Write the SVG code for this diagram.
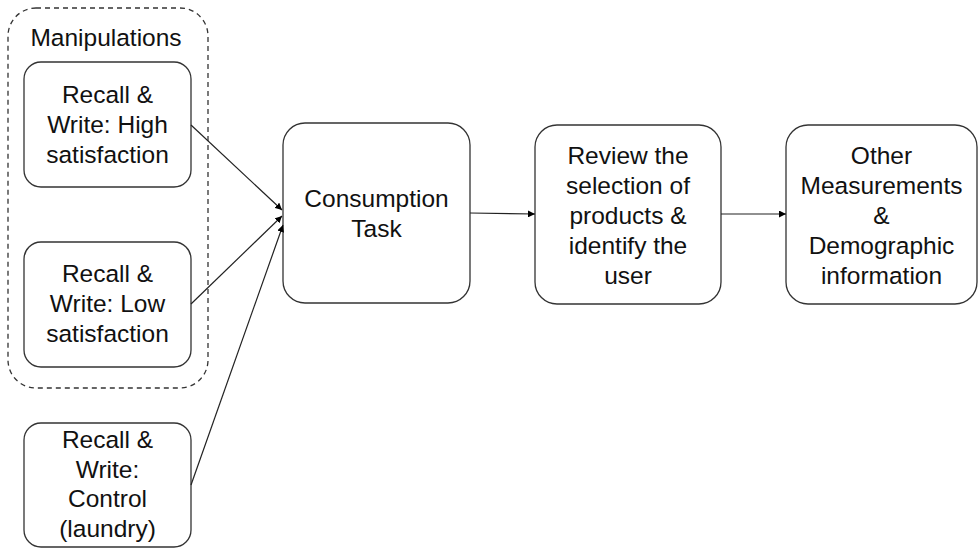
<svg xmlns="http://www.w3.org/2000/svg" width="980" height="548" viewBox="0 0 980 548">
<defs>
<marker id="ah" viewBox="0 0 10 10" refX="10" refY="5" markerWidth="7" markerHeight="7" orient="auto" markerUnits="userSpaceOnUse">
<path d="M0,0 L10,5 L0,10 z" fill="#000"/>
</marker>
<style>
.box{fill:#fff;stroke:#333;stroke-width:1.3}
.grp{fill:none;stroke:#333;stroke-width:1.3;stroke-dasharray:5,4}
.t{font-family:"Liberation Sans",Arial,Helvetica,sans-serif;font-size:24.5px;fill:#111;text-anchor:middle}
.c{stroke:#222;stroke-width:1.2;fill:none;marker-end:url(#ah)}
</style>
</defs>
<rect width="980" height="548" fill="#fff"/>
<g id="manipulations">
<rect class="grp" x="8" y="8" width="200" height="380" rx="28"/>
<text class="t" x="106" y="46">Manipulations</text>
</g>
<g id="high">
<rect class="box" x="24" y="62" width="167" height="125" rx="17"/>
<text class="t" x="107.5" y="103">Recall &amp;</text>
<text class="t" x="107.5" y="133">Write: High</text>
<text class="t" x="107.5" y="163">satisfaction</text>
</g>
<g id="low">
<rect class="box" x="24" y="242" width="167" height="125" rx="17"/>
<text class="t" x="107.5" y="282">Recall &amp;</text>
<text class="t" x="107.5" y="312">Write: Low</text>
<text class="t" x="107.5" y="342">satisfaction</text>
</g>
<g id="control">
<rect class="box" x="24" y="423" width="167" height="124" rx="17"/>
<text class="t" x="107.5" y="448">Recall &amp;</text>
<text class="t" x="107.5" y="478">Write:</text>
<text class="t" x="107.5" y="507">Control</text>
<text class="t" x="107.5" y="537">(laundry)</text>
</g>
<g id="consumption">
<rect class="box" x="283" y="123" width="187" height="180" rx="22"/>
<text class="t" x="376.5" y="207">Consumption</text>
<text class="t" x="376.5" y="237">Task</text>
</g>
<g id="review">
<rect class="box" x="535" y="125" width="186" height="179" rx="22"/>
<text class="t" x="628" y="164">Review the</text>
<text class="t" x="628" y="194">selection of</text>
<text class="t" x="628" y="224">products &amp;</text>
<text class="t" x="628" y="254">identify the</text>
<text class="t" x="628" y="284">user</text>
</g>
<g id="other">
<rect class="box" x="786" y="125" width="191" height="179" rx="22"/>
<text class="t" x="881.5" y="164">Other</text>
<text class="t" x="881.5" y="194">Measurements</text>
<text class="t" x="881.5" y="224">&amp;</text>
<text class="t" x="881.5" y="254">Demographic</text>
<text class="t" x="881.5" y="284">information</text>
</g>
<g id="connectors">
<line class="c" x1="191" y1="125" x2="282" y2="210"/>
<line class="c" x1="191" y1="304" x2="282" y2="216"/>
<line class="c" x1="191" y1="485" x2="283" y2="225"/>
<line class="c" x1="470" y1="213" x2="535" y2="214"/>
<line class="c" x1="721" y1="214" x2="786" y2="214"/>
</g>
</svg>
